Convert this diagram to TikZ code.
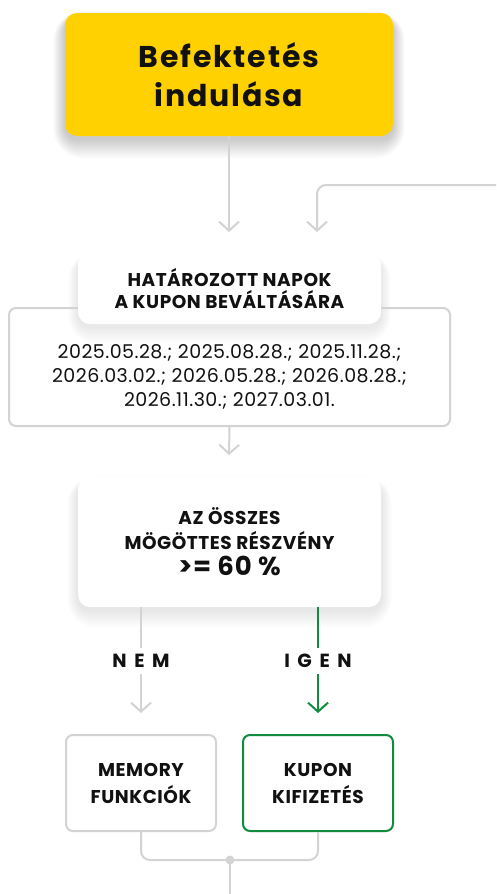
\documentclass[tikz,border=0pt]{standalone}
\usepackage{fontspec}
\setmainfont{Poppins}
\newfontfamily\spacedfont[LetterSpace=40]{Poppins}
\newfontfamily\titlefont[LetterSpace=6]{Poppins}
\newfontfamily\capsfont[LetterSpace=3]{Poppins}
\newfontfamily\datefont[LetterSpace=2.5]{Poppins}
\usetikzlibrary{arrows.meta,calc}
\pgfdeclarelayer{shadowlayer}
\pgfsetlayers{shadowlayer,main}
\definecolor{ylw}{HTML}{FFD100}
\definecolor{lgray}{HTML}{D3D3D3}
\definecolor{grn}{HTML}{138B3F}
\definecolor{txt}{HTML}{111111}
\tikzset{
  conn/.style={draw=lgray, line width=2pt},
  tipped/.style={-{Straight Barb[length=9pt,width=20pt]}},
  card/.style={fill=white, rounded corners=12pt, align=center, text=txt},
  frame/.style={draw=lgray, line width=2pt, rounded corners=7pt},
  caps/.style={font=\fontsize{18.5}{22}\selectfont\capsfont\bfseries, text=txt, align=center},
}
\newcommand{\softshadow}[3]{% node, opacity per layer, steps
  \begin{pgfonlayer}{shadowlayer}
  \foreach \i in {1,...,#3} {
    \pgfmathsetmacro{\rr}{12+0.7*\i}
    \fill[black, opacity=#2, rounded corners=\rr pt]
      ($(#1.north west)+(-\i*0.45, 6-\i*0.3)$) rectangle ($(#1.south east)+(\i*0.45, 3+\i*0.75)$);
  }
  \end{pgfonlayer}}
\begin{document}
\begin{tikzpicture}[x=1pt,y=-1pt]
\useasboundingbox (0,0) rectangle (496,894);
% start
\node[card, fill=ylw, minimum width=328pt, minimum height=123pt,
  font=\fontsize{30}{39}\selectfont\titlefont\bfseries] (start) at (229,74.5) {Befektetés\\indulása};
\softshadow{start}{0.007}{26}
% connectors to header
\coordinate (t1) at (229,232);
\coordinate (t2) at (317,232);
\coordinate (ext) at (496,185);
\draw[conn,tipped] (start.south) -- (t1);
\draw[conn,tipped,rounded corners=9pt] (ext) -| (t2);
% outer frame with dates
\node[frame, minimum width=441pt, minimum height=118pt] (dates) at (229.5,367) {};
\node[font=\fontsize{19}{24}\selectfont\datefont, align=center, text=txt] (datetxt) at (229.5,377)
  {2025.05.28.; 2025.08.28.; 2025.11.28.;\\2026.03.02.; 2026.05.28.; 2026.08.28.;\\2026.11.30.; 2027.03.01.};
\node[card, caps, minimum width=303pt, minimum height=71pt] (head) at (229.5,288.5)
  {HATÁROZOTT NAPOK\\A KUPON BEVÁLTÁSÁRA};
\softshadow{head}{0.0045}{22}
% condition
\coordinate (t3) at (229,455);
\draw[conn,tipped] (dates.south) -- (t3);
\node[card, caps, font=\fontsize{18.5}{25}\selectfont\capsfont\bfseries, minimum width=303pt, minimum height=130pt] (cond) at (229.5,542)
  {AZ ÖSSZES\\MÖGÖTTES RÉSZVÉNY\\[1pt]{\fontsize{26}{28}\selectfont >= 60 \%}};
\softshadow{cond}{0.005}{24}
% branches
\node[font=\fontsize{19}{22}\selectfont\spacedfont\bfseries, text=txt, inner ysep=6pt] (nem) at (141,661) {NEM};
\node[font=\fontsize{19}{22}\selectfont\spacedfont\bfseries, text=txt, inner ysep=6pt] (igen) at (318,661) {IGEN};
\coordinate (t4) at (141,713);
\coordinate (t5) at (318,713);
\draw[conn] (cond.south -| nem) -- (nem);
\draw[conn,tipped] (nem) -- (t4);
\draw[conn,draw=grn] (cond.south -| igen) -- (igen);
\draw[conn,draw=grn,tipped] (igen) -- (t5);
% results
\node[frame, caps, fill=white, font=\fontsize{18.5}{27}\selectfont\capsfont\bfseries, minimum width=150pt, minimum height=96pt] (mem) at (141,783) {MEMORY\\FUNKCIÓK};
\node[frame, caps, fill=white, font=\fontsize{18.5}{27}\selectfont\capsfont\bfseries, draw=grn, minimum width=150pt, minimum height=96pt] (kup) at (318,783) {KUPON\\KIFIZETÉS};
% join
\coordinate (join) at (230,860);
\coordinate (out) at (230,894);
\draw[conn,rounded corners=9pt] (mem.south) |- (join) -| (kup.south);
\draw[conn] (join) -- (out);
\fill[lgray] (join) circle (4.5pt);
\end{tikzpicture}
\end{document}
